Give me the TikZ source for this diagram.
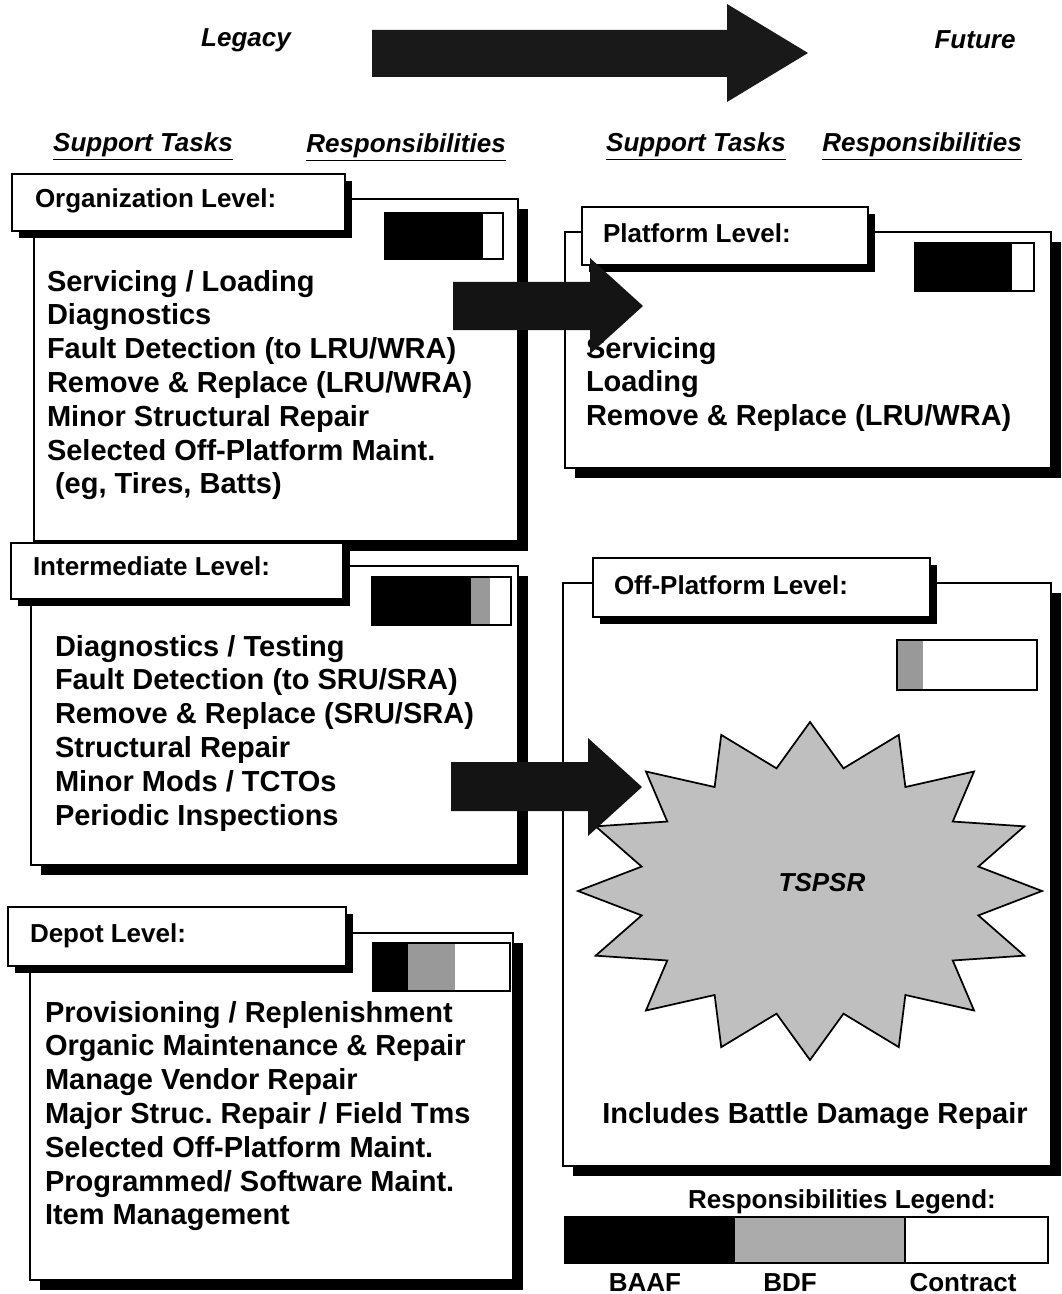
\documentclass[tikz,border=0pt]{standalone}
\usepackage{fontspec}
\setmainfont{Liberation Sans}
\usetikzlibrary{fit,shadows}
\frenchspacing

\begin{document}
\begin{tikzpicture}[x=0.75pt, y=-0.75pt,
  every node/.style={inner sep=0pt, outer sep=0pt},
  panel/.style={draw=black, line width=1.5pt, fill=white,
    drop shadow={shadow xshift=7.5pt, shadow yshift=-7.5pt, fill=black, opacity=1}},
  tab/.style={draw=black, line width=1.5pt, fill=white,
    drop shadow={shadow xshift=5pt, shadow yshift=-5pt, fill=black, opacity=1}},
  tasks/.style={font=\fontsize{21.75}{25.35}\selectfont\bfseries, align=left, anchor=north west},
  heading/.style={font=\fontsize{19.5}{23}\selectfont\bfseries, anchor=base west},
  colhead/.style={font=\fontsize{19.5}{23}\selectfont\bfseries\itshape, anchor=base},
  legendtext/.style={font=\fontsize{19.5}{23}\selectfont\bfseries, anchor=base},
  barframe/.style={draw=black, line width=1.3pt},
  baaf/.style={fill=black},
  bdf/.style={fill=black!40},
]
\useasboundingbox (0,0) rectangle (1061,1294);
\fill[white] (0,0) rectangle (1061,1294);

% ---- top banner ----
\node[colhead] (legacy) at (246,47) {Legacy};
\node[colhead] (future) at (975,49) {Future};
\fill[black!90] (372,30) -- (727,30) -- (727,4) -- (808,53) -- (727,102) -- (727,77) -- (372,77) -- cycle;

\node[colhead] (lst) at (143,152) {\underline{Support Tasks}};
\node[colhead] (lrs) at (406,153) {\underline{Responsibilities}};
\node[colhead] (fst) at (696,152) {\underline{Support Tasks}};
\node[colhead] (frs) at (922,152) {\underline{Responsibilities}};

% ---- Organization level ----
\node[panel, fit={(34,199) (518,541)}] (orgbox) {};
\node[tab, fit={(12,174) (345,231)}] (orgtab) {};
\node[heading] (orgtitle) at (35,208) {Organization Level:};
\fill[baaf] (385,213) rectangle (483,259);
\node[barframe, fit={(385,213) (503,259)}] (orgbar) {};
\node[tasks] (orgtasks) at (47,270) {Servicing / Loading\\Diagnostics\\Fault Detection (to LRU/WRA)\\Remove \& Replace (LRU/WRA)\\Minor Structural Repair\\Selected Off-Platform Maint.\\\ (eg, Tires, Batts)};

% ---- Intermediate level ----
\node[panel, fit={(31,566) (518,865)}] (intbox) {};
\node[tab, fit={(11,543) (343,599)}] (inttab) {};
\node[heading] (inttitle) at (33,575) {Intermediate Level:};
\fill[baaf] (372,577) rectangle (471,625);
\fill[bdf] (471,577) rectangle (490,625);
\node[barframe, fit={(372,577) (511,625)}] (intbar) {};
\node[tasks] (inttasks) at (55,635) {Diagnostics / Testing\\Fault Detection (to SRU/SRA)\\Remove \& Replace (SRU/SRA)\\Structural Repair\\Minor Mods / TCTOs\\Periodic Inspections};

% ---- Depot level ----
\node[panel, fit={(30,933) (513,1280)}] (depbox) {};
\node[tab, fit={(8,907) (346,966)}] (deptab) {};
\node[heading] (deptitle) at (30,942) {Depot Level:};
\fill[baaf] (373,943) rectangle (408,991);
\fill[bdf] (408,943) rectangle (455,991);
\node[barframe, fit={(373,943) (510,991)}] (depbar) {};
\node[tasks] (deptasks) at (45,1001) {Provisioning / Replenishment\\Organic Maintenance \& Repair\\Manage Vendor Repair\\Major Struc. Repair / Field Tms\\Selected Off-Platform Maint.\\Programmed/ Software Maint.\\Item Management};

% ---- Platform level ----
\node[panel, fit={(565,232) (1051,468)}] (platbox) {};
\node[tab, fit={(582,207) (868,265)}] (plattab) {};
\node[heading] (plattitle) at (603,243) {Platform Level:};
\fill[baaf] (915,243) rectangle (1012,291);
\node[barframe, fit={(915,243) (1034,291)}] (platbar) {};
\node[tasks] (plattasks) at (586,337) {Servicing\\Loading\\Remove \& Replace (LRU/WRA)};

% ---- Off-platform level ----
\node[panel, fit={(563,583) (1051,1166)}] (offbox) {};
\node[tab, fit={(593,558) (930,617)}] (offtab) {};
\node[heading] (offtitle) at (614,594) {Off-Platform Level:};
\fill[bdf] (897,640) rectangle (923,690);
\node[barframe, fit={(897,640) (1037,690)}] (offbar) {};
\draw[line width=1.3pt, fill=black!25]
  plot[variable=\k, samples at={0,1,...,31}]
  ({810 + 232*(1 - 0.26*mod(\k,2))*cos(\k*11.25)},
   {891 - 169*(1 - 0.26*mod(\k,2))*sin(\k*11.25)}) -- cycle;
\node[colhead] (tspsr) at (822,891) {TSPSR};
\node[legendtext, font=\fontsize{21.75}{25.35}\selectfont\bfseries] (bdr) at (815,1123) {Includes Battle Damage Repair};

% ---- transition arrows ----
\fill[black!92] (453,282) -- (590,282) -- (590,258) -- (643,306) -- (590,354) -- (590,330) -- (453,330) -- cycle;
\fill[black!92] (451,762) -- (588,762) -- (588,738) -- (642,787) -- (588,836) -- (588,811) -- (451,811) -- cycle;

% ---- legend ----
\node[legendtext] (legtitle) at (842,1208) {Responsibilities Legend:};
\fill[baaf] (565,1217) rectangle (735,1263);
\fill[black!33] (735,1217) rectangle (905,1263);
\node[barframe, fit={(565,1217) (1048,1263)}] (legbar) {};
\draw[line width=1.3pt] (905,1217) -- (905,1263);
\node[legendtext] (lbaaf) at (645,1291) {BAAF};
\node[legendtext] (lbdf) at (790,1291) {BDF};
\node[legendtext] (lcon) at (963,1291) {Contract};
\end{tikzpicture}
\end{document}
